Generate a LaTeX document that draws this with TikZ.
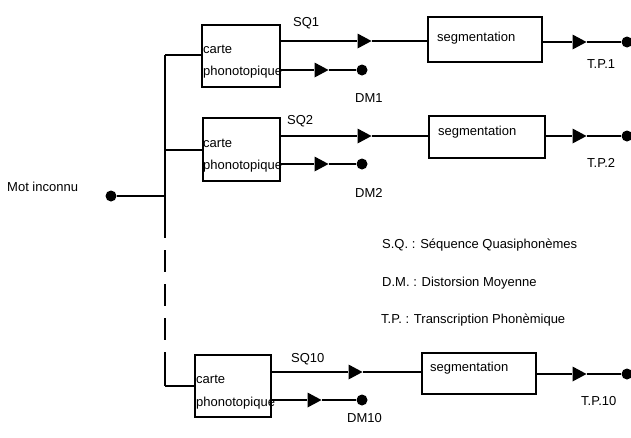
\documentclass[tikz,border=0pt]{standalone}
\usepackage{fontspec}
\setmainfont{Liberation Sans}
\usetikzlibrary{shapes.geometric}
\begin{document}
\begin{tikzpicture}[x=1pt,y=-1pt,
  line/.style={line width=1.6pt},
  boxc/.style={draw, rectangle, line width=1.6pt, inner sep=0},
  tri/.style={isosceles triangle, isosceles triangle stretches, fill, inner sep=0, minimum height=14pt, minimum width=15pt},
  dot/.style={circle, fill, inner sep=0, minimum size=11pt},
  lbl/.style={font=\fontsize{13}{15}\selectfont, inner sep=0, anchor=base west},
]
\useasboundingbox (0,0) rectangle (631,437);

% input
\node[dot] (in) at (111,196) {};
\node[lbl] (lin) at (7,191) {Mot inconnu};
\coordinate (j0) at (165,196);
\coordinate (j1) at (165,55);
\coordinate (j2) at (165,150);
\coordinate (jd) at (165,238);
\coordinate (je) at (165,352);
\coordinate (j3) at (165,386);

% carte boxes
\node[boxc, minimum width=78pt, minimum height=62pt] (c1) at (241,56) {};
\node[boxc, minimum width=77pt, minimum height=63pt] (c2) at (241.5,149.5) {};
\node[boxc, minimum width=76pt, minimum height=62pt] (c3) at (233,386) {};

% segmentation boxes
\node[boxc, minimum width=114pt, minimum height=45pt] (s1) at (485,39.5) {};
\node[boxc, minimum width=116pt, minimum height=42pt] (s2) at (487,137) {};
\node[boxc, minimum width=114pt, minimum height=41pt] (s3) at (479,373.5) {};

% box texts
\node[lbl] (tc1) at (203,53) {carte};
\node[lbl] (tp1) at (203,75) {phonotopique};
\node[lbl] (tc2) at (203,147) {carte};
\node[lbl] (tp2) at (203,169) {phonotopique};
\node[lbl] (tc3) at (196,383) {carte};
\node[lbl] (tp3) at (196,406) {phonotopique};
\node[lbl] (ts1) at (437,41) {segmentation};
\node[lbl] (ts2) at (438,135) {segmentation};
\node[lbl] (ts3) at (430,371) {segmentation};

% arrows and dots
\node[tri] (a1) at (362,41) {};
\node[tri] (a2) at (362,136) {};
\node[tri] (a3) at (353,372) {};
\node[tri] (d1) at (319,70) {};
\node[tri] (d2) at (319,164) {};
\node[tri] (d3) at (312,400) {};
\node[dot] (m1) at (362,70) {};
\node[dot] (m2) at (362,164) {};
\node[dot] (m3) at (362,400) {};
\node[tri] (o1) at (577,42) {};
\node[tri] (o2) at (577,136) {};
\node[tri] (o3) at (577,374) {};
\node[dot] (t1) at (627,42) {};
\node[dot] (t2) at (627,136) {};
\node[dot] (t3) at (627,374) {};

% trunk
\draw[line] (in) -- (j0);
\draw[line] (j1) -- (jd);
\draw[line, dash pattern=on 22pt off 12pt, dash phase=22pt] (jd) -- (je);
\draw[line] (je) -- (j3);
\draw[line] (j1) -- (j1 -| c1.west);
\draw[line] (j2) -- (j2 -| c2.west);
\draw[line] (j3) -- (j3 -| c3.west);

% SQ connectors
\draw[line] (c1.east |- a1) -- (a1) -- (a1 -| s1.west);
\draw[line] (c2.east |- a2) -- (a2) -- (a2 -| s2.west);
\draw[line] (c3.east |- a3) -- (a3) -- (a3 -| s3.west);
% DM connectors
\draw[line] (c1.east |- d1) -- (d1) -- (m1);
\draw[line] (c2.east |- d2) -- (d2) -- (m2);
\draw[line] (c3.east |- d3) -- (d3) -- (m3);
% TP connectors
\draw[line] (s1.east |- o1) -- (o1) -- (t1);
\draw[line] (s2.east |- o2) -- (o2) -- (t2);
\draw[line] (s3.east |- o3) -- (o3) -- (t3);

% labels
\node[lbl] (lsq1) at (293,26) {SQ1};
\node[lbl] (lsq2) at (287,124) {SQ2};
\node[lbl] (lsq3) at (291,362) {SQ10};
\node[lbl] (ldm1) at (355,102) {DM1};
\node[lbl] (ldm2) at (355,197) {DM2};
\node[lbl] (ldm3) at (347,422) {DM10};
\node[lbl] (ltp1) at (587,68) {T.P.1};
\node[lbl] (ltp2) at (587,167) {T.P.2};
\node[lbl] (ltp3) at (581,405) {T.P.10};

% legend
\node[lbl] (g1) at (382,248) {S.Q. : Séquence Quasiphonèmes};
\node[lbl] (g2) at (382,286) {D.M. : Distorsion Moyenne};
\node[lbl] (g3) at (381,323) {T.P. : Transcription Phonèmique};
\end{tikzpicture}
\end{document}
